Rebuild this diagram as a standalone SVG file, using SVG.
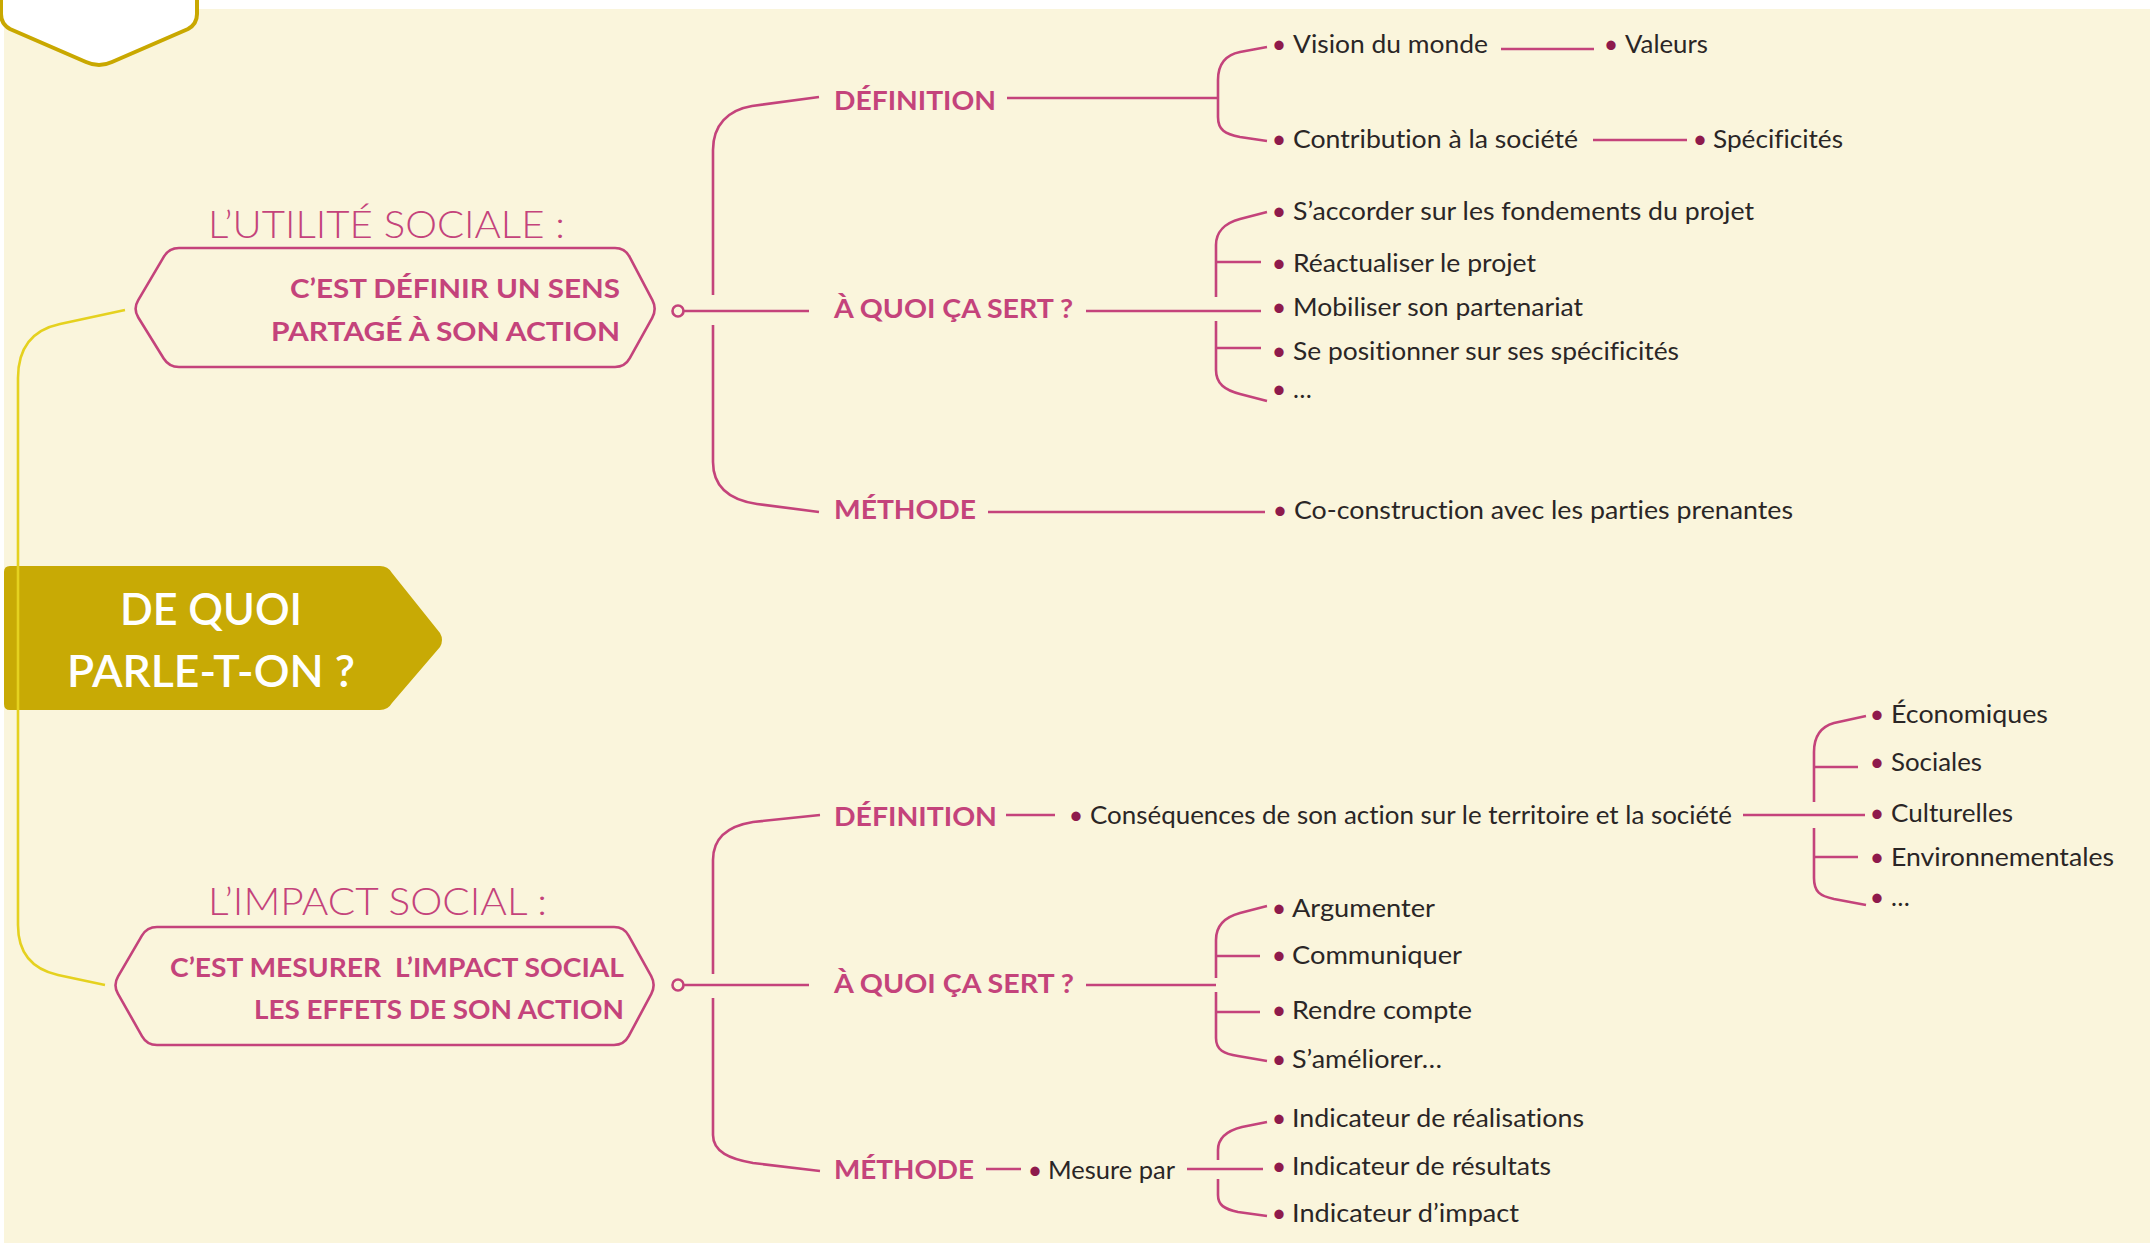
<svg xmlns="http://www.w3.org/2000/svg" width="2150" height="1243" viewBox="0 0 2150 1243">
<defs>
<style>
.ln{fill:none;stroke:#C4437B;stroke-width:2.6;stroke-linecap:butt;stroke-linejoin:round}
.yl{fill:none;stroke:#E5D11F;stroke-width:2.6}
.lbl{font-family:Lato,"Open Sans","Liberation Sans",sans-serif;font-weight:700;font-size:27px;fill:#C4437B}
.t{font-family:Lato,"Open Sans","Liberation Sans",sans-serif;font-size:25px;fill:#2A2626;font-variant-ligatures:none}
.b{font-family:Lato,"Open Sans","Liberation Sans",sans-serif;font-size:25px;fill:#8E1A4C;text-anchor:middle}
.ttl{font-family:Lato,"Open Sans","Liberation Sans",sans-serif;font-weight:300;font-size:38px;fill:#C4437B}
.hx{font-family:Lato,"Open Sans","Liberation Sans",sans-serif;font-weight:700;font-size:27px;fill:#C4437B;text-anchor:end}
.hexs{fill:none;stroke:#C4437B;stroke-width:2.6}
.main{font-family:Lato,"Open Sans","Liberation Sans",sans-serif;font-weight:600;font-size:44px;fill:#FFFFFF;text-anchor:middle}
</style>
</defs>
<rect x="0" y="0" width="2150" height="1243" fill="#FFFFFF"/>
<rect x="4" y="9" width="2146" height="1234" fill="#FAF5DC"/>

<g id="top-tab">
<rect x="15" y="0" width="67" height="1.5" fill="#F2C4DA"/>
<rect x="97" y="0" width="78" height="1.5" fill="#F2C4DA"/>
<path d="M 1,-5 L 1,14 Q 1,24 10,29 L 86,62 Q 99,68 112,62 L 188,29 Q 197,24 197,14 L 197,-5" fill="#FFFFFF" stroke="#C9A800" stroke-width="4"/>
</g>

<g id="main-node">
<path d="M 4,572 Q 4,566 10,566 L 380,566 Q 388,566 392,573 L 440,633 Q 444,640 440,647 L 392,703 Q 388,710 380,710 L 10,710 Q 4,710 4,704 Z" fill="#C8AA05"/>
<text class="main" x="211" y="625" textLength="182" lengthAdjust="spacingAndGlyphs">DE QUOI</text>
<text class="main" x="211" y="687" textLength="288" lengthAdjust="spacingAndGlyphs">PARLE-T-ON ?</text>
</g>

<g id="connectors">
<path class="yl" d="M 125,310 L 60,324 Q 18,333 18,378 L 18,925 Q 18,966 58,975 L 105,985"/>
<circle cx="678" cy="311" r="5.5" fill="#FAF5DC" stroke="#C4437B" stroke-width="2.6"/>
<path class="ln" d="M 684,311 L 809,311"/>
<path class="ln" d="M 713,295 L 713,150 C 713,125 728,110 752,106 L 819,97"/>
<path class="ln" d="M 713,325 L 713,462 C 713,487 730,500 757,504 L 819,512"/>
<path class="ln" d="M 1007,98 L 1218,98"/>
<path class="ln" d="M 1267,47 L 1240,52 C 1225,55 1218,65 1218,80 L 1218,117 C 1218,130 1225,134 1240,137 L 1267,141"/>
<path class="ln" d="M 1501,49 L 1594,49"/>
<path class="ln" d="M 1593,140 L 1687,140"/>
<path class="ln" d="M 1086,311 L 1261,311"/>
<path class="ln" d="M 1267,212 L 1240,219 C 1225,223 1216,232 1216,245 L 1216,297"/>
<path class="ln" d="M 1216,262 L 1261,262"/>
<path class="ln" d="M 1216,321 L 1216,370 C 1216,384 1225,390 1240,394 L 1267,401"/>
<path class="ln" d="M 1216,348 L 1261,348"/>
<path class="ln" d="M 988,512 L 1265,512"/>
<circle cx="678" cy="985" r="5.5" fill="#FAF5DC" stroke="#C4437B" stroke-width="2.6"/>
<path class="ln" d="M 684,985 L 809,985"/>
<path class="ln" d="M 713,974 L 713,860 C 713,838 728,826 753,822 L 820,815"/>
<path class="ln" d="M 713,998 L 713,1135 C 713,1152 730,1159 753,1163 L 820,1171"/>
<path class="ln" d="M 1006,815 L 1055,815"/>
<path class="ln" d="M 1743,815 L 1865,815"/>
<path class="ln" d="M 1866,716 L 1834,723 C 1820,727 1814,737 1814,752 L 1814,802"/>
<path class="ln" d="M 1814,767 L 1858,767"/>
<path class="ln" d="M 1814,828 L 1814,878 C 1814,892 1820,896 1834,899 L 1866,905"/>
<path class="ln" d="M 1814,857 L 1858,857"/>
<path class="ln" d="M 1086,985 L 1216,985"/>
<path class="ln" d="M 1267,906 L 1240,913 C 1225,917 1216,926 1216,940 L 1216,978"/>
<path class="ln" d="M 1216,956 L 1260,956"/>
<path class="ln" d="M 1216,992 L 1216,1038 C 1216,1050 1224,1054 1238,1056 L 1267,1061"/>
<path class="ln" d="M 1216,1012 L 1260,1012"/>
<path class="ln" d="M 986,1169 L 1021,1169"/>
<path class="ln" d="M 1187,1169 L 1263,1169"/>
<path class="ln" d="M 1267,1122 L 1242,1127 C 1226,1131 1218,1138 1218,1150 L 1218,1160"/>
<path class="ln" d="M 1218,1179 L 1218,1195 C 1218,1205 1224,1209 1238,1212 L 1267,1216"/>
</g>

<g id="utilite-sociale">
<text class="ttl" x="208" y="238" textLength="357" lengthAdjust="spacingAndGlyphs">L’UTILITÉ SOCIALE :</text>
<path class="hexs" d="M 138.1,300.4 L 163.9,256.6 Q 169,248 179,248 L 615,248 Q 625,248 629.6,256.9 L 652.4,300.2 Q 657,309 652.2,317.8 L 629.8,358.2 Q 625,367 615,367 L 179,367 Q 169,367 163.7,358.5 L 138.3,317.5 Q 133,309 138.1,300.4 Z"/>
<text class="hx" x="620" y="298" textLength="330" lengthAdjust="spacingAndGlyphs">C’EST DÉFINIR UN SENS</text>
<text class="hx" x="620" y="341" textLength="349" lengthAdjust="spacingAndGlyphs">PARTAGÉ À SON ACTION</text>
</g>

<g id="us-definition"><text class="lbl" x="834" y="110" textLength="162" lengthAdjust="spacingAndGlyphs">DÉFINITION</text></g>
<g id="us-aquoi"><text class="lbl" x="834" y="318" textLength="239" lengthAdjust="spacingAndGlyphs">À QUOI ÇA SERT ?</text></g>
<g id="us-methode"><text class="lbl" x="834" y="519" textLength="142" lengthAdjust="spacingAndGlyphs">MÉTHODE</text></g>

<g id="us-vision"><text class="b" x="1279" y="53">•</text><text class="t" x="1293" y="53" textLength="195" lengthAdjust="spacingAndGlyphs">Vision du monde</text></g>
<g id="us-valeurs"><text class="b" x="1611" y="53">•</text><text class="t" x="1625" y="53" textLength="83" lengthAdjust="spacingAndGlyphs">Valeurs</text></g>
<g id="us-contribution"><text class="b" x="1279" y="148">•</text><text class="t" x="1293" y="148" textLength="285" lengthAdjust="spacingAndGlyphs">Contribution à la société</text></g>
<g id="us-specificites"><text class="b" x="1700" y="148">•</text><text class="t" x="1713" y="148" textLength="130" lengthAdjust="spacingAndGlyphs">Spécificités</text></g>
<g id="us-accorder"><text class="b" x="1279" y="220">•</text><text class="t" x="1293" y="220" textLength="461" lengthAdjust="spacingAndGlyphs">S’accorder sur les fondements du projet</text></g>
<g id="us-reactualiser"><text class="b" x="1279" y="272">•</text><text class="t" x="1293" y="272" textLength="243" lengthAdjust="spacingAndGlyphs">Réactualiser le projet</text></g>
<g id="us-mobiliser"><text class="b" x="1279" y="316">•</text><text class="t" x="1293" y="316" textLength="290" lengthAdjust="spacingAndGlyphs">Mobiliser son partenariat</text></g>
<g id="us-positionner"><text class="b" x="1279" y="360">•</text><text class="t" x="1293" y="360" textLength="386" lengthAdjust="spacingAndGlyphs">Se positionner sur ses spécificités</text></g>
<g id="us-etc"><text class="b" x="1279" y="398">•</text><text class="t" x="1293" y="398">…</text></g>
<g id="us-coconstruction"><text class="b" x="1280" y="519">•</text><text class="t" x="1294" y="519" textLength="499" lengthAdjust="spacingAndGlyphs">Co-construction avec les parties prenantes</text></g>

<g id="impact-social">
<text class="ttl" x="208" y="915" textLength="339" lengthAdjust="spacingAndGlyphs">L’IMPACT SOCIAL :</text>
<path class="hexs" d="M 118.1,976.4 L 141.9,935.6 Q 147,927 157,927 L 614,927 Q 624,927 628.8,935.8 L 651.2,976.2 Q 656,985 651.3,993.8 L 628.7,1036.2 Q 624,1045 614,1045 L 157,1045 Q 147,1045 142.1,1036.3 L 117.9,993.7 Q 113,985 118.1,976.4 Z"/>
<text class="hx" x="624" y="977" textLength="454" lengthAdjust="spacingAndGlyphs" xml:space="preserve">C’EST MESURER  L’IMPACT SOCIAL</text>
<text class="hx" x="624" y="1019" textLength="370" lengthAdjust="spacingAndGlyphs">LES EFFETS DE SON ACTION</text>
</g>

<g id="is-definition"><text class="lbl" x="834" y="826" textLength="163" lengthAdjust="spacingAndGlyphs">DÉFINITION</text></g>
<g id="is-aquoi"><text class="lbl" x="834" y="993" textLength="240" lengthAdjust="spacingAndGlyphs">À QUOI ÇA SERT ?</text></g>
<g id="is-methode"><text class="lbl" x="834" y="1179" textLength="140" lengthAdjust="spacingAndGlyphs">MÉTHODE</text></g>

<g id="is-consequences"><text class="b" x="1076" y="824">•</text><text class="t" x="1090" y="824" textLength="642" lengthAdjust="spacingAndGlyphs">Conséquences de son action sur le territoire et la société</text></g>
<g id="is-economiques"><text class="b" x="1877" y="723">•</text><text class="t" x="1891" y="723" textLength="157" lengthAdjust="spacingAndGlyphs">Économiques</text></g>
<g id="is-sociales"><text class="b" x="1877" y="771">•</text><text class="t" x="1891" y="771" textLength="91" lengthAdjust="spacingAndGlyphs">Sociales</text></g>
<g id="is-culturelles"><text class="b" x="1877" y="822">•</text><text class="t" x="1891" y="822" textLength="122" lengthAdjust="spacingAndGlyphs">Culturelles</text></g>
<g id="is-environnementales"><text class="b" x="1877" y="866">•</text><text class="t" x="1891" y="866" textLength="223" lengthAdjust="spacingAndGlyphs">Environnementales</text></g>
<g id="is-etc"><text class="b" x="1877" y="906">•</text><text class="t" x="1891" y="906">…</text></g>
<g id="is-argumenter"><text class="b" x="1279" y="917">•</text><text class="t" x="1292" y="917" textLength="143" lengthAdjust="spacingAndGlyphs">Argumenter</text></g>
<g id="is-communiquer"><text class="b" x="1279" y="964">•</text><text class="t" x="1292" y="964" textLength="170" lengthAdjust="spacingAndGlyphs">Communiquer</text></g>
<g id="is-rendre"><text class="b" x="1279" y="1019">•</text><text class="t" x="1292" y="1019" textLength="180" lengthAdjust="spacingAndGlyphs">Rendre compte</text></g>
<g id="is-ameliorer"><text class="b" x="1279" y="1068">•</text><text class="t" x="1292" y="1068" textLength="150" lengthAdjust="spacingAndGlyphs">S’améliorer…</text></g>
<g id="is-mesure"><text class="b" x="1035" y="1179">•</text><text class="t" x="1048" y="1179" textLength="127" lengthAdjust="spacingAndGlyphs">Mesure par</text></g>
<g id="is-realisations"><text class="b" x="1279" y="1127">•</text><text class="t" x="1292" y="1127" textLength="292" lengthAdjust="spacingAndGlyphs">Indicateur de réalisations</text></g>
<g id="is-resultats"><text class="b" x="1279" y="1175">•</text><text class="t" x="1292" y="1175" textLength="259" lengthAdjust="spacingAndGlyphs">Indicateur de résultats</text></g>
<g id="is-impact"><text class="b" x="1279" y="1222">•</text><text class="t" x="1292" y="1222" textLength="227" lengthAdjust="spacingAndGlyphs">Indicateur d’impact</text></g>
</svg>
